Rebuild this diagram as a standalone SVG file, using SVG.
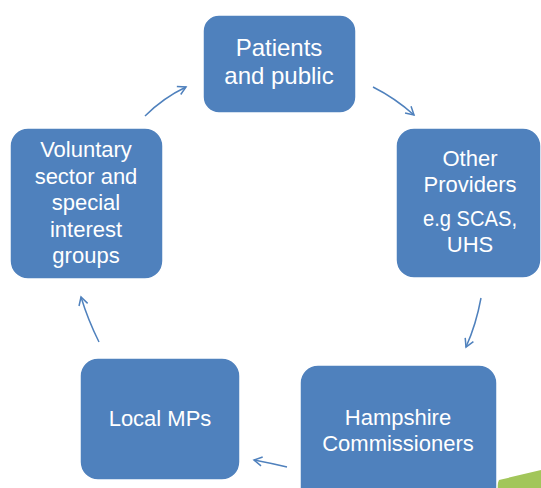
<svg xmlns="http://www.w3.org/2000/svg" width="541" height="488" viewBox="0 0 541 488">
  <defs>
    <style>
      .box { fill: #4F81BD; stroke: #FFFFFF; stroke-width: 1.5; }
      .lbl { fill: #FFFFFF; font-family: "Liberation Sans", Arial, sans-serif; font-size: 22px; text-anchor: middle; }
      .link { fill: none; stroke: #4F81BD; stroke-width: 1.5; }
    </style>
    <marker id="open-arrow" viewBox="-10 -6 12 12" markerWidth="12" markerHeight="12" refX="0" refY="0" orient="auto" markerUnits="userSpaceOnUse">
      <path d="M-8,-4.5 L0,0 L-8,4.5" fill="none" stroke="#4F81BD" stroke-width="1.5"/>
    </marker>
  </defs>

  <rect width="541" height="488" fill="#FFFFFF"/>

  <!-- green corner accent -->
  <polygon points="496,488 499,480 541,470 541,488" fill="#A2C65A"/>

  <g id="connectors">
    <path class="link" d="M373,87 Q395,98 414,115" marker-end="url(#open-arrow)"/>
    <path class="link" d="M481,298 Q476,325 466,347" marker-end="url(#open-arrow)"/>
    <path class="link" d="M287,467 Q270,463 254,460" marker-end="url(#open-arrow)"/>
    <path class="link" d="M99,342 Q88,320 81,297" marker-end="url(#open-arrow)"/>
    <path class="link" d="M145,116 Q163,98 186,87" marker-end="url(#open-arrow)"/>
  </g>

  <g id="patients">
    <rect class="box" x="203" y="15" width="153" height="98" rx="16"/>
    <text class="lbl" x="279" y="56" style="font-size:24px">Patients</text>
    <text class="lbl" x="279" y="84" style="font-size:24px">and public</text>
  </g>

  <g id="other-providers">
    <rect class="box" x="396" y="128" width="145" height="150" rx="18"/>
    <text class="lbl" x="470" y="166">Other</text>
    <text class="lbl" x="470" y="192">Providers</text>
    <text class="lbl" x="470" y="226" textLength="94" lengthAdjust="spacingAndGlyphs">e.g SCAS,</text>
    <text class="lbl" x="470" y="252">UHS</text>
  </g>

  <g id="hampshire-commissioners">
    <rect class="box" x="300" y="365" width="197" height="140" rx="18"/>
    <text class="lbl" x="398" y="425">Hampshire</text>
    <text class="lbl" x="398" y="451">Commissioners</text>
  </g>

  <g id="local-mps">
    <rect class="box" x="80" y="358" width="160" height="122" rx="18"/>
    <text class="lbl" x="160" y="426">Local MPs</text>
  </g>

  <g id="voluntary-sector">
    <rect class="box" x="10" y="128" width="153" height="151" rx="18"/>
    <text class="lbl" x="86" y="157">Voluntary</text>
    <text class="lbl" x="86" y="184">sector and</text>
    <text class="lbl" x="86" y="210">special</text>
    <text class="lbl" x="86" y="237">interest</text>
    <text class="lbl" x="86" y="263">groups</text>
  </g>
</svg>
